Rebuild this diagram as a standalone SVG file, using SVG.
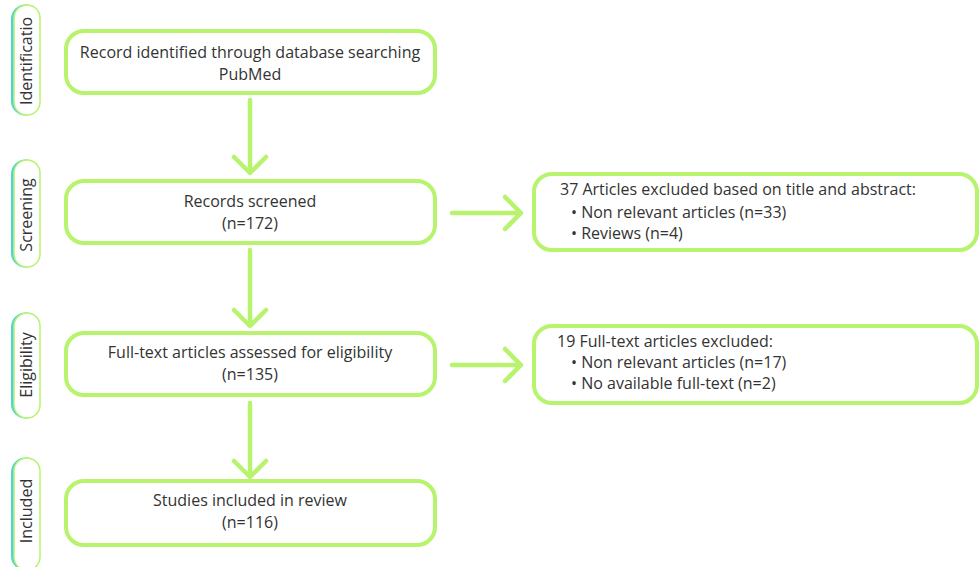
<svg xmlns="http://www.w3.org/2000/svg" width="979" height="567" viewBox="0 0 979 567">
<style>
.box{fill:#fff;stroke:#b7f36d;stroke-width:4}
.pill{fill:#fff;stroke:#b7f36d;stroke-width:1.5}
.pillc{fill:none;stroke:#4fd3d6;stroke-width:3}
.t{font-family:"Open Sans","Liberation Sans",sans-serif;font-size:16px;fill:#333}
.m{text-anchor:middle}
.side{font-family:"Open Sans","Liberation Sans",sans-serif;font-size:16px;fill:#333;text-anchor:middle}
.c{fill:none;stroke:#b7f36d;stroke-width:4.5;stroke-linecap:round;stroke-linejoin:round}
</style>
<g id="lbl-identification">
<rect class="pillc" x="12.5" y="6" width="26" height="108" rx="13"/>
<rect class="pill" x="14" y="5" width="26" height="110" rx="13"/>
<text class="side" transform="translate(31.5 61) rotate(-90)">Identificatio</text>
</g>
<g id="lbl-screening">
<rect class="pillc" x="12.5" y="161" width="26" height="105" rx="13"/>
<rect class="pill" x="14" y="160" width="26" height="107" rx="13"/>
<text class="side" transform="translate(31.5 215) rotate(-90)">Screening</text>
</g>
<g id="lbl-eligibility">
<rect class="pillc" x="12.5" y="314" width="26" height="103" rx="13"/>
<rect class="pill" x="14" y="313" width="26" height="105" rx="13"/>
<text class="side" transform="translate(31.5 365) rotate(-90)">Eligibility</text>
</g>
<g id="lbl-included">
<rect class="pillc" x="12.5" y="459" width="26" height="110" rx="13"/>
<rect class="pill" x="14" y="458" width="26" height="112" rx="13"/>
<text class="side" transform="translate(31.5 511) rotate(-90)">Included</text>
</g>
<g id="connectors">
<path class="c" d="M250 100V172M234 157L250 173L266 157"/>
<path class="c" d="M250 250V325M234 310L250 326L266 310"/>
<path class="c" d="M250 403V476M234 461L250 477L266 461"/>
<path class="c" d="M452 213H521M505 197L521 213L505 229"/>
<path class="c" d="M452 365H521M505 349L521 365L505 381"/>
</g>
<g id="n-identified">
<rect class="box" x="66" y="31" width="369" height="62" rx="18"/>
<text class="t m" x="250" y="58">Record identified through database searching</text>
<text class="t m" x="250" y="80">PubMed</text>
</g>
<g id="n-screened">
<rect class="box" x="66" y="181" width="369" height="62" rx="18"/>
<text class="t m" x="250" y="207">Records screened</text>
<text class="t m" x="250" y="229">(n=172)</text>
</g>
<g id="n-eligibility">
<rect class="box" x="66" y="333" width="369" height="62" rx="18"/>
<text class="t m" x="250" y="358">Full-text articles assessed for eligibility</text>
<text class="t m" x="250" y="380">(n=135)</text>
</g>
<g id="n-included">
<rect class="box" x="66" y="481" width="369" height="64" rx="18"/>
<text class="t m" x="250" y="506">Studies included in review</text>
<text class="t m" x="250" y="528">(n=116)</text>
</g>
<g id="n-excluded1">
<rect class="box" x="534" y="174" width="443" height="76" rx="18"/>
<text class="t" x="560" y="195">37 Articles excluded based on title and abstract:</text>
<text class="t" x="571" y="218">•  Non relevant articles (n=33)</text>
<text class="t" x="571" y="239">•  Reviews (n=4)</text>
</g>
<g id="n-excluded2">
<rect class="box" x="534" y="326" width="443" height="77" rx="18"/>
<text class="t" x="557" y="347">19 Full-text articles excluded:</text>
<text class="t" x="571" y="368">•  Non relevant articles (n=17)</text>
<text class="t" x="571" y="389">•  No available full-text (n=2)</text>
</g>
</svg>
